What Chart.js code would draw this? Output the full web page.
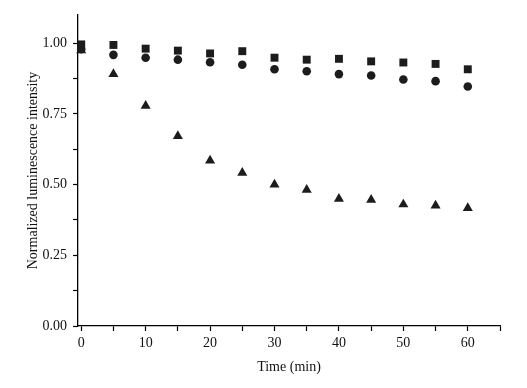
<!DOCTYPE html>
<html>
<head>
<meta charset="utf-8">
<script src="https://cdn.jsdelivr.net/npm/chart.js@4"></script>
<style>
  html, body { margin: 0; padding: 0; background: #fff; }
  #wrap { width: 527px; height: 388px; }
</style>
</head>
<body>
<div id="wrap"><canvas id="chart"></canvas></div>
<script>
// Time points (min)
const times = [0, 5, 10, 15, 20, 25, 30, 35, 40, 45, 50, 55, 60];

// Normalized luminescence intensity
const squareValues   = [0.996, 0.994, 0.981, 0.974, 0.964, 0.972, 0.949, 0.942, 0.945, 0.936, 0.932, 0.927, 0.908];
const circleValues   = [0.979, 0.959, 0.949, 0.942, 0.933, 0.924, 0.908, 0.901, 0.891, 0.886, 0.872, 0.866, 0.847];
const triangleValues = [0.975, 0.891, 0.779, 0.672, 0.585, 0.542, 0.500, 0.482, 0.450, 0.446, 0.430, 0.426, 0.417];

const markColor = '#1c1c1c';
const serif = "'Liberation Serif', 'DejaVu Serif', serif";

function toPoints(values) {
  return times.map((t, i) => ({ x: t, y: values[i] }));
}

const datasets = [
  { label: 'square', data: toPoints(squareValues), pointStyle: 'rect', pointRadius: 5.6 },
  { label: 'circle', data: toPoints(circleValues), pointStyle: 'circle', pointRadius: 4.3 },
  { label: 'triangle', data: toPoints(triangleValues), pointStyle: 'triangle', pointRadius: 5.8 }
].map(ds => ({
  ...ds,
  showLine: false,
  backgroundColor: markColor,
  borderColor: markColor,
  borderWidth: 0,
  pointHoverRadius: ds.pointRadius,
  clip: false
}));

new Chart(document.getElementById('chart'), {
  type: 'scatter',
  data: { datasets },
  options: {
    responsive: true,
    maintainAspectRatio: false,
    animation: false,
    layout: { padding: { top: 15, right: 27, left: 0, bottom: 0 } },
    plugins: {
      legend: { display: false },
      tooltip: { enabled: false }
    },
    scales: {
      x: {
        type: 'linear',
        min: -0.5,
        max: 65,
        afterFit: scale => { scale.height = 62; },
        border: { display: true, color: '#000', width: 1.3 },
        grid: { display: true, drawOnChartArea: false, drawTicks: true, tickLength: 5, tickColor: '#000', tickWidth: 1.2 },
        ticks: {
          stepSize: 5,
          includeBounds: false,
          autoSkip: false,
          maxRotation: 0,
          padding: 4,
          color: '#111',
          font: { family: serif, size: 14 },
          callback: v => (v % 10 === 0 ? String(v) : '')
        },
        title: {
          display: true,
          text: 'Time (min)',
          color: '#111',
          font: { family: serif, size: 14 },
          padding: { top: 0, bottom: 12 }
        }
      },
      y: {
        type: 'linear',
        min: 0,
        max: 1.1,
        afterFit: scale => { scale.width = 78; },
        border: { display: true, color: '#000', width: 1.3 },
        grid: { display: true, drawOnChartArea: false, drawTicks: true, tickLength: 5, tickColor: '#000', tickWidth: 1.2 },
        ticks: {
          stepSize: 0.125,
          includeBounds: false,
          autoSkip: false,
          padding: 6,
          color: '#111',
          font: { family: serif, size: 14 },
          callback: v => (Math.abs(v / 0.25 - Math.round(v / 0.25)) < 1e-6 ? v.toFixed(2) : '')
        },
        title: {
          display: true,
          text: 'Normalized luminescence intensity',
          color: '#111',
          font: { family: serif, size: 14 },
          padding: { top: 25, bottom: 0 }
        }
      }
    }
  }
});
</script>
</body>
</html>
